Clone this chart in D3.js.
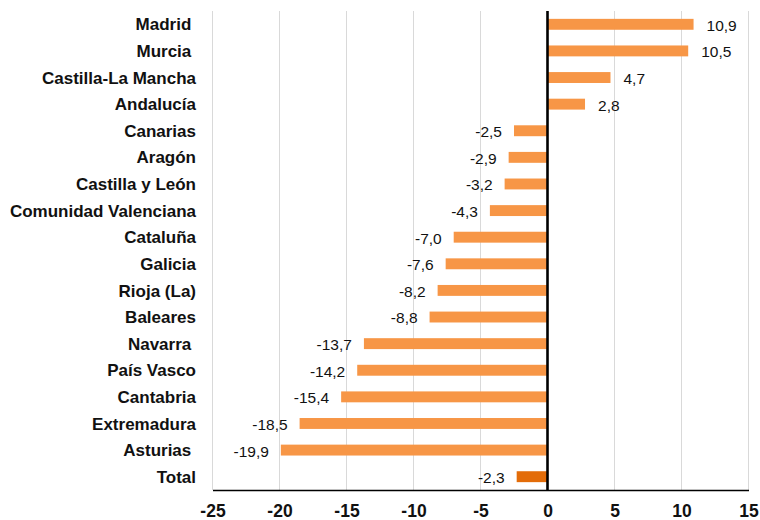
<!DOCTYPE html>
<html><head><meta charset="utf-8">
<script src="https://cdn.jsdelivr.net/npm/d3@7"></script>
<style>body{margin:0;background:#fff}svg{display:block}</style>
</head><body>
<svg id="c" width="760" height="520"></svg>
<script>
const categories = ["Madrid ","Murcia ","Castilla-La Mancha","Andalucía","Canarias","Aragón","Castilla y León","Comunidad Valenciana","Cataluña","Galicia","Rioja (La)","Baleares","Navarra ","País Vasco","Cantabria","Extremadura","Asturias ","Total"];
const values = [10.9,10.5,4.7,2.8,-2.5,-2.9,-3.2,-4.3,-7.0,-7.6,-8.2,-8.8,-13.7,-14.2,-15.4,-18.5,-19.9,-2.3];
const tickValues = [-25,-20,-15,-10,-5,0,5,10,15];

(function(){
const svg = d3.select("#c");
const pLeft = 212.5, pRight = 748.5, pTop = 11, pBottom = 490;
const x = d3.scaleLinear().domain([-25,15]).range([pLeft,pRight]);
const y = d3.scaleBand().domain(categories).range([pTop,pBottom]).paddingInner(0.59).paddingOuter(0.295);
const font = "'Liberation Sans', Arial, Helvetica, sans-serif";

svg.append("g").selectAll("line").data(tickValues.filter(d=>d!==0)).join("line")
  .attr("x1",d=>x(d)).attr("x2",d=>x(d)).attr("y1",pTop).attr("y2",pBottom)
  .attr("stroke","#d9d9d9").attr("stroke-width",1);

const data = categories.map((c,i)=>({c, v:values[i]}));
svg.append("g").selectAll("rect").data(data).join("rect")
  .attr("x",d=>x(Math.min(0,d.v))).attr("width",d=>Math.abs(x(d.v)-x(0)))
  .attr("y",d=>y(d.c)).attr("height",y.bandwidth())
  .attr("fill",d=>d.c==="Total" ? "#E36C09" : "#F79646");

const fmt = v => d3.format(".1f")(v).replace(".",",").replace("−","-");
svg.append("g").selectAll("text").data(data).join("text")
  .attr("x",d=>d.v>=0 ? x(d.v)+13 : x(d.v)-12)
  .attr("y",d=>y(d.c)+y.bandwidth()/2+1)
  .attr("dy","0.35em")
  .attr("text-anchor",d=>d.v>=0?"start":"end")
  .attr("font-family",font).attr("font-size",15.5).attr("fill","#111")
  .text(d=>fmt(d.v));

svg.append("g").selectAll("text").data(categories).join("text")
  .attr("x",196).attr("y",d=>y(d)+y.bandwidth()/2).attr("dy","0.36em")
  .attr("text-anchor","end").attr("xml:space","preserve").style("white-space","pre")
  .attr("font-family",font).attr("font-size",17).attr("font-weight","bold").attr("fill","#111")
  .text(d=>d);

const ax = svg.append("g").attr("transform",`translate(0,${pBottom})`)
  .call(d3.axisBottom(x).tickValues(tickValues).tickSize(0).tickPadding(15).tickFormat(d=>String(d)));
ax.select(".domain").attr("stroke","#000").attr("stroke-width",1.3);
ax.selectAll("text").attr("font-family",font).attr("font-size",17.5).attr("font-weight","bold").attr("fill","#111");

svg.append("line").attr("x1",x(0)).attr("x2",x(0)).attr("y1",pTop).attr("y2",pBottom)
  .attr("stroke","#000").attr("stroke-width",2.6);
})();
</script>
</body></html>
